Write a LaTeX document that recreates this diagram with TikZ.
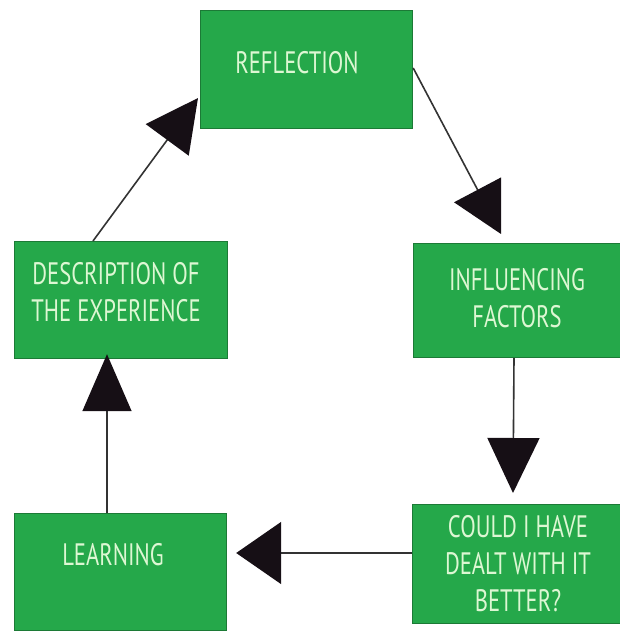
\documentclass[tikz,border=0pt]{standalone}
\usepackage{fontspec}
\setmainfont{PT Sans}[FakeStretch=0.73]
\usetikzlibrary{arrows.meta,calc}
\definecolor{boxgreen}{HTML}{25A84A}
\definecolor{boxedge}{HTML}{1C7A36}
\definecolor{txtgreen}{HTML}{DDF7D3}
\definecolor{linegray}{HTML}{333333}
\definecolor{headblack}{HTML}{160F15}
\tikzset{
  box/.style={draw=boxedge, line width=1.2pt, fill=boxgreen, inner sep=0pt, anchor=north west},
  lbl/.style={text=txtgreen, font=\fontsize{31}{37}\selectfont, align=center, inner sep=0pt},
  conn/.style={draw=linegray, line width=1.6pt},
}
\begin{document}
\begin{tikzpicture}[x=1pt,y=-1pt]
\useasboundingbox (0,0) rectangle (619,632);
% boxes
\node[box, minimum width=212pt, minimum height=118pt] (refl) at (200,10) {};
\node[box, minimum width=213pt, minimum height=117pt] (desc) at (14,241) {};
\node[box, minimum width=210pt, minimum height=114pt] (infl) at (413,243) {};
\node[box, minimum width=212pt, minimum height=117pt] (learn) at (14,513) {};
\node[box, minimum width=210pt, minimum height=119pt] (could) at (412,504) {};
% texts
\node[lbl] (treflect) at (297,63) {REFLECTION};
\node[lbl] (tdesc) at (116,292) {DESCRIPTION OF\\THE EXPERIENCE};
\node[lbl] (tinfl) at (517,298) {INFLUENCING\\FACTORS};
\node[lbl] (tlearn) at (113,555) {LEARNING};
\node[lbl] (tcould) at (518,564) {COULD I HAVE\\DEALT WITH IT\\BETTER?};
% connectors
\draw[conn, -{Triangle[length=52pt,width=53pt,color=headblack]}]
  ($(desc.north west)+(79,0)$) -- ($(refl.north west)+(-2,88)$);
\draw[conn, -{Triangle[length=50pt,width=53pt,color=headblack]}]
  ($(refl.north east)+(0,58)$) -- ($(infl.north west)+(88,-9)$);
\draw[conn, -{Triangle[length=55pt,width=52pt,color=headblack]}]
  ($(infl.south west)+(101,0)$) -- ($(could.north west)+(101,-11)$);
\draw[conn, -{Triangle[length=45pt,width=62pt,color=headblack]}]
  ($(could.north west)+(0,49)$) -- ($(learn.north east)+(9,40)$);
\draw[conn, -{Triangle[length=57pt,width=49pt,color=headblack]}]
  ($(learn.north west)+(93,0)$) -- ($(desc.south west)+(93,-5)$);
\end{tikzpicture}
\end{document}
